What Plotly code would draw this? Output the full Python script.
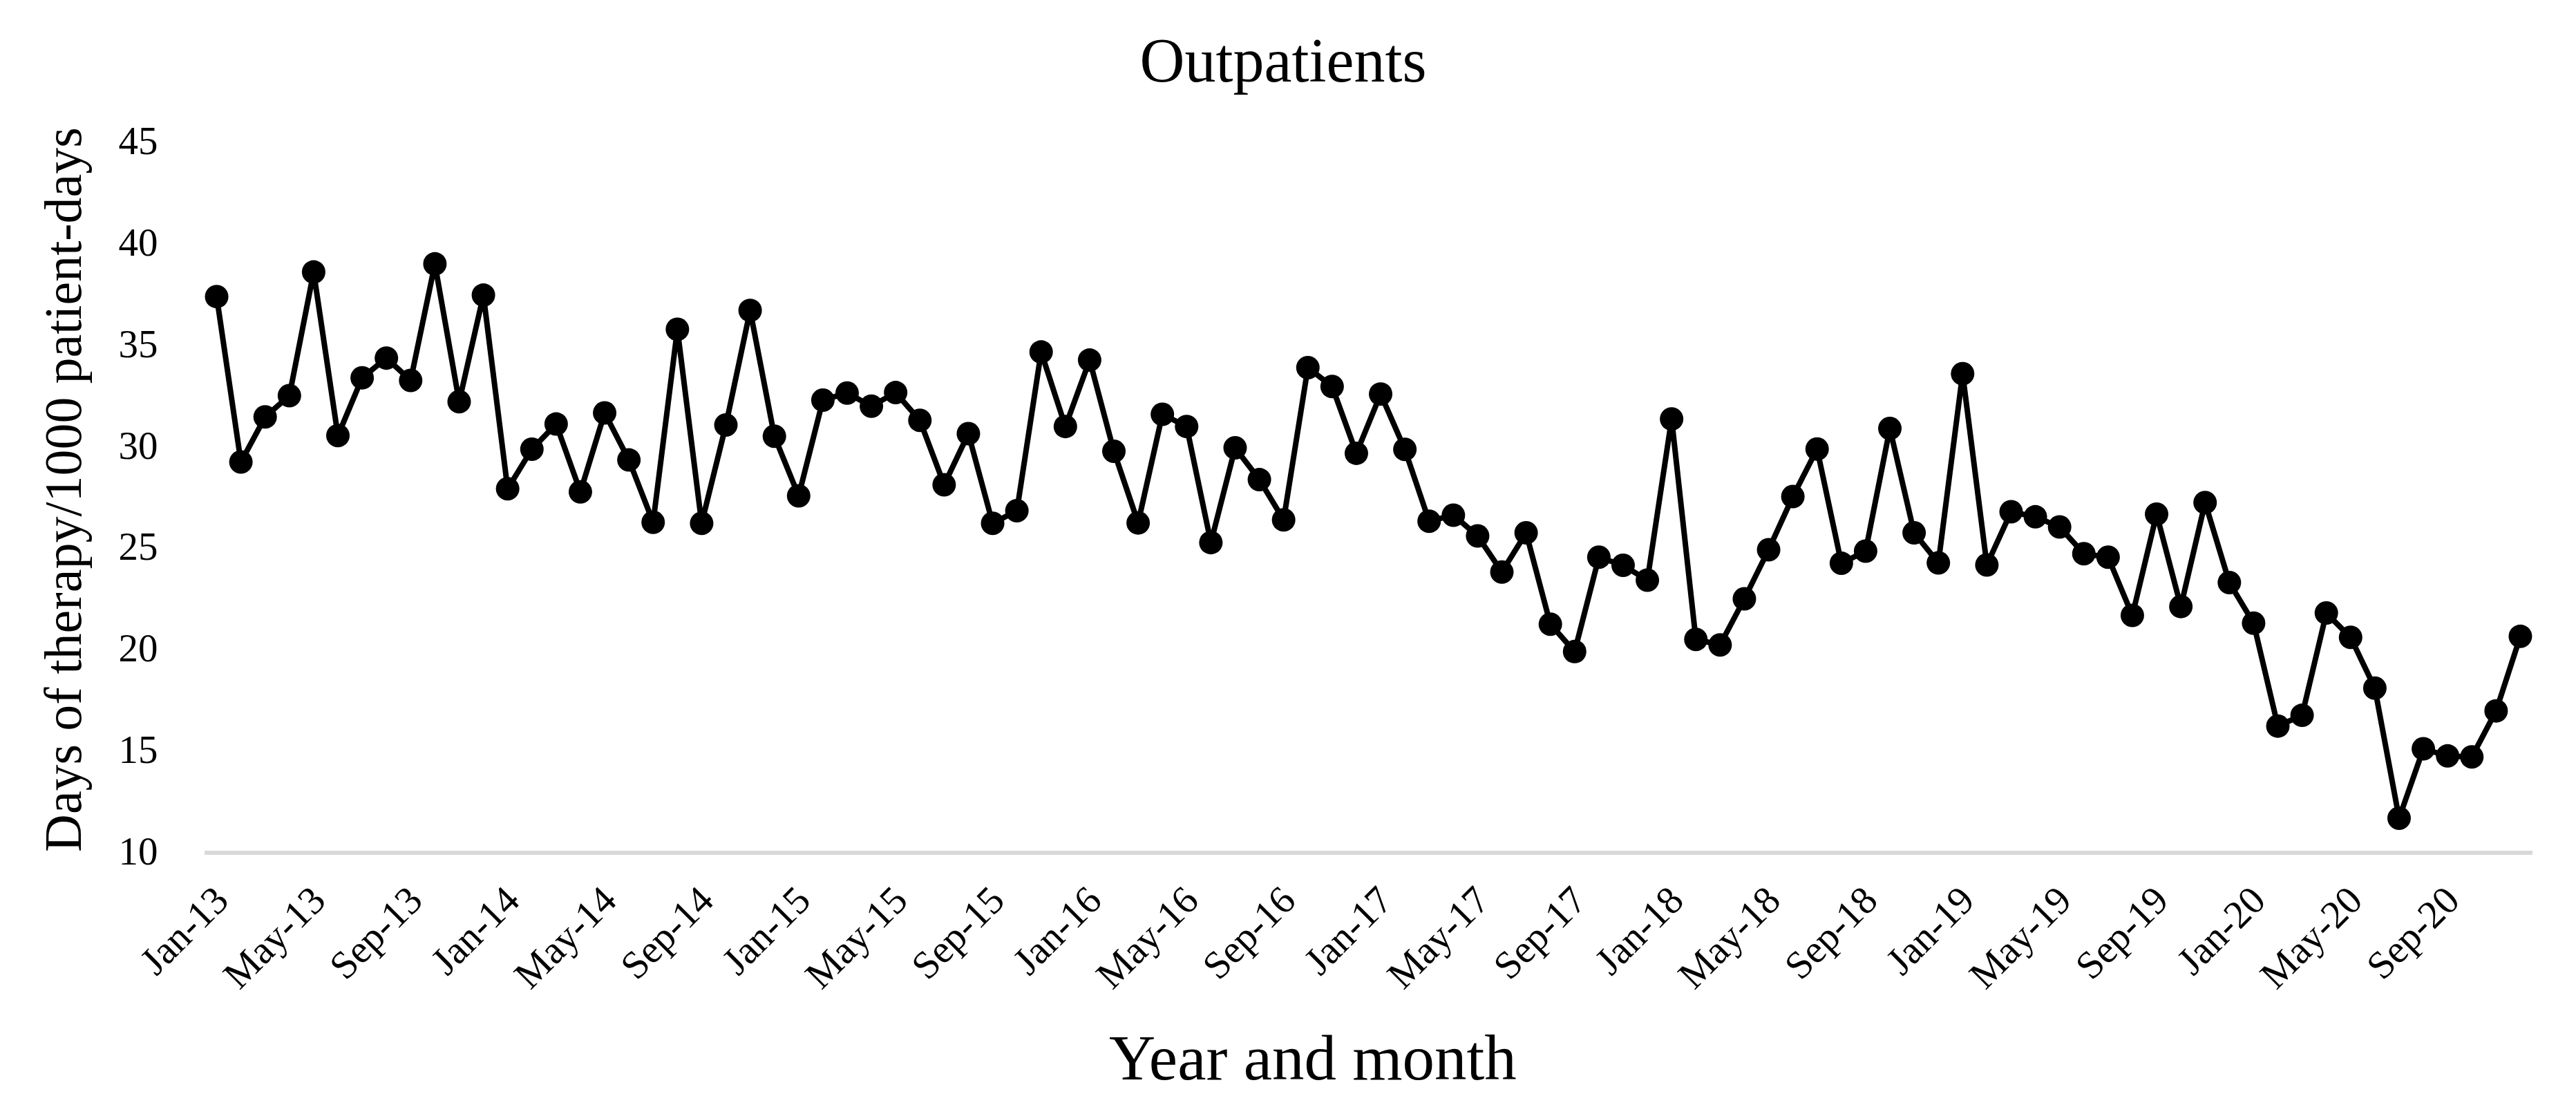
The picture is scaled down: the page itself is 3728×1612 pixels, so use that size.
import plotly.graph_objects as go

month_names = ["Jan", "Feb", "Mar", "Apr", "May", "Jun",
               "Jul", "Aug", "Sep", "Oct", "Nov", "Dec"]
years = ["13", "14", "15", "16", "17", "18", "19", "20"]
months = [f"{m}-{y}" for y in years for m in month_names]

dot_values = [
    37.3, 29.15, 31.37, 32.42, 38.51, 30.45, 33.30, 34.27, 33.17, 38.91, 32.12, 37.37,
    27.83, 29.78, 31.02, 27.68, 31.57, 29.25, 26.18, 35.69, 26.13, 30.97, 36.62, 30.42,
    27.48, 32.20, 32.55, 31.90, 32.57, 31.20, 28.03, 30.55, 26.13, 26.75, 34.57, 30.90,
    34.17, 29.68, 26.15, 31.50, 30.90, 25.18, 29.85, 28.28, 26.30, 33.80, 32.87, 29.58,
    32.50, 29.77, 26.23, 26.53, 25.51, 23.73, 25.66, 21.16, 19.81, 24.46, 24.06, 23.33,
    31.27, 20.41, 20.14, 22.41, 24.83, 27.45, 29.79, 24.16, 24.76, 30.80, 25.66, 24.18,
    33.50, 24.08, 26.70, 26.45, 25.95, 24.63, 24.46, 21.59, 26.58, 22.03, 27.15, 23.21,
    21.21, 16.14, 16.67, 21.71, 20.51, 18.01, 11.60, 15.02, 14.67, 14.62, 16.89, 20.56,
]

tick_labels = [m for m in months if m.split("-")[0] in ("Jan", "May", "Sep")]
y_ticks = [10, 15, 20, 25, 30, 35, 40, 45]

FONT = "Liberation Serif, Times New Roman, serif"

W, H = 3728, 1612
L, R, T, B = 296, 63, 203, 381

fig = go.Figure()
fig.add_trace(go.Scatter(
    x=months, y=dot_values, mode="lines+markers",
    line=dict(color="black", width=8),
    marker=dict(color="black", size=34, symbol="circle"),
    showlegend=False,
))

fig.update_layout(
    width=W, height=H,
    margin=dict(l=L, r=R, t=T, b=B),
    paper_bgcolor="white", plot_bgcolor="white",
    font=dict(family=FONT, color="black", size=56),
    title=dict(text="Outpatients", x=1857 / W, xanchor="center",
               y=1 - 86 / H, yanchor="middle", yref="container",
               font=dict(size=90, family=FONT, color="black")),
)

fig.add_annotation(
    text="Year and month", xref="paper", yref="paper",
    x=(1900 - L) / (W - L - R), y=-(1530 - (H - B)) / (H - T - B),
    xanchor="center", yanchor="middle", showarrow=False,
    font=dict(size=93, family=FONT, color="black"),
)

fig.add_annotation(
    text="Days of therapy/1000 patient-days", xref="paper", yref="paper",
    x=(91 - L) / (W - L - R), y=((H - B) - 709) / (H - T - B),
    xanchor="center", yanchor="middle", showarrow=False, textangle=-90,
    font=dict(size=76, family=FONT, color="black"),
)

fig.update_xaxes(
    type="category", categoryorder="array", categoryarray=months,
    range=[-0.5, len(months) - 0.5],
    tickmode="array", tickvals=tick_labels, ticktext=tick_labels,
    tickangle=-45, tickfont=dict(size=57, family=FONT, color="black"),
    ticks="outside", ticklen=9, tickcolor="rgba(0,0,0,0)",
    showline=True, linecolor="#d9d9d9", linewidth=6,
    showgrid=False, zeroline=False,
)

fig.update_yaxes(
    range=[10, 45], tickmode="array", tickvals=y_ticks,
    tickfont=dict(size=57, family=FONT, color="black"),
    ticks="outside", ticklen=55, tickcolor="rgba(0,0,0,0)",
    showline=False, showgrid=False, zeroline=False,
)

fig.write_html("out.html", config={"displayModeBar": False},
               post_script="document.body.style.margin='0';")
